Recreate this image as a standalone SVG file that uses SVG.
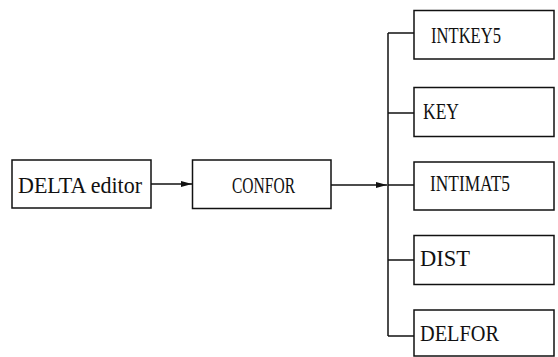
<svg xmlns="http://www.w3.org/2000/svg" width="558" height="357" viewBox="0 0 558 357">
<defs>
<style>
.box{fill:#fff;stroke:#111;stroke-width:1.5}
.t{font-family:"Liberation Serif","DejaVu Serif",serif;font-size:23px;fill:#111}
.c{fill:none;stroke:#111;stroke-width:1.5}
</style>
<marker id="ah" markerWidth="12" markerHeight="8" refX="11" refY="4" orient="auto" markerUnits="userSpaceOnUse">
<path d="M0,1 L11,4 L0,7 Z" fill="#111"/>
</marker>
</defs>
<rect width="558" height="357" fill="#fff"/>
<g id="connectors">
<line class="c" x1="151" y1="184" x2="192" y2="184" marker-end="url(#ah)"/>
<line class="c" x1="331" y1="185" x2="387" y2="185" marker-end="url(#ah)"/>
<line class="c" x1="388" y1="33" x2="388" y2="336"/>
<line class="c" x1="388" y1="33" x2="414" y2="33"/>
<line class="c" x1="388" y1="113" x2="414" y2="113"/>
<line class="c" x1="388" y1="185" x2="414" y2="185"/>
<line class="c" x1="388" y1="260" x2="414" y2="260"/>
<line class="c" x1="388" y1="336" x2="414" y2="336"/>
</g>
<g id="delta">
<rect class="box" x="12" y="160" width="139" height="48"/>
<text class="t" x="18" y="192.5" textLength="124" lengthAdjust="spacingAndGlyphs">DELTA editor</text>
</g>
<g id="confor">
<rect class="box" x="192.5" y="160" width="138.5" height="48.5"/>
<text class="t" x="232" y="192.5" textLength="63" lengthAdjust="spacingAndGlyphs">CONFOR</text>
</g>
<g id="intkey5">
<rect class="box" x="414" y="10.5" width="140" height="48.5"/>
<text class="t" x="431" y="42.5" textLength="70" lengthAdjust="spacingAndGlyphs">INTKEY5</text>
</g>
<g id="key">
<rect class="box" x="414" y="87.5" width="140" height="49"/>
<text class="t" x="423" y="118.5" textLength="36" lengthAdjust="spacingAndGlyphs">KEY</text>
</g>
<g id="intimat5">
<rect class="box" x="414" y="162" width="140" height="48"/>
<text class="t" x="430" y="191" textLength="80" lengthAdjust="spacingAndGlyphs">INTIMAT5</text>
</g>
<g id="dist">
<rect class="box" x="414" y="235.5" width="140" height="49"/>
<text class="t" x="420" y="265.5" textLength="50" lengthAdjust="spacingAndGlyphs">DIST</text>
</g>
<g id="delfor">
<rect class="box" x="414" y="310" width="140" height="46"/>
<text class="t" x="420" y="340.5" textLength="79" lengthAdjust="spacingAndGlyphs">DELFOR</text>
</g>
</svg>
